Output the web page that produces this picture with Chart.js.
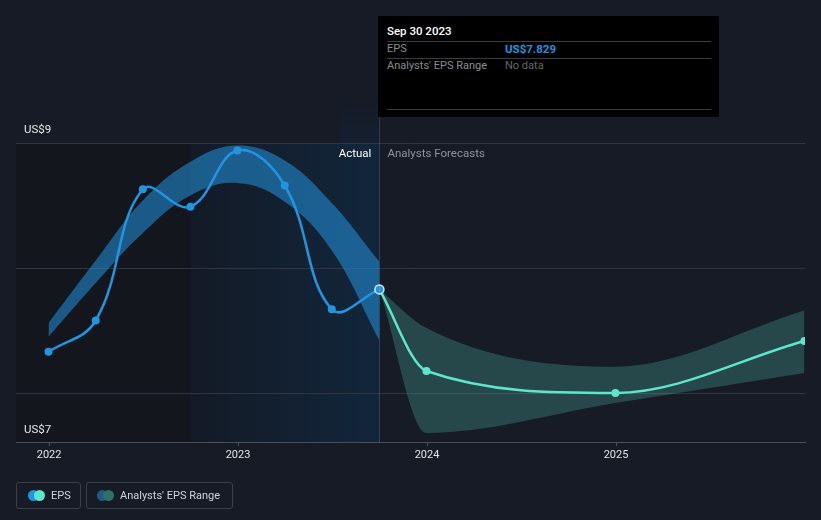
<!DOCTYPE html>
<html>
<head>
<meta charset="utf-8">
<script src="https://cdn.jsdelivr.net/npm/chart.js@4/dist/chart.umd.min.js"></script>
<style>
  html, body { margin:0; padding:0; background:#161b26; }
  body { width:821px; height:520px; overflow:hidden; position:relative; font-family:Roboto, "DejaVu Sans", sans-serif; }
  #c { position:absolute; left:0; top:0; }
  #tip { position:absolute; left:378px; top:16px; width:341px; height:101px; background:#000; }
  #tip .t { position:absolute; font-size:11px; line-height:14px; white-space:nowrap; }
  #tip .hr { position:absolute; left:9px; width:324px; height:1px; background:#3a3c40; }
  .lg { position:absolute; top:482px; height:25px; border:1px solid #3a3f4a; border-radius:3px; }
  .lg .dot { position:absolute; top:7px; width:11px; height:11px; border-radius:50%; }
  .lg .tx { position:absolute; top:0; line-height:25px; font-size:11px; color:#cfd3d9; white-space:nowrap; }
</style>
</head>
<body>
<canvas id="c" width="821" height="520" style="width:821px;height:520px"></canvas>

<div id="tip">
  <div class="t" style="left:9px;top:8px;color:#fff;font-weight:500;font-size:11.5px">Sep 30 2023</div>
  <div class="hr" style="top:25px"></div>
  <div class="t" style="left:9px;top:26px;color:#8b8e94">EPS</div>
  <div class="t" style="left:127px;top:26px;color:#2394df;font-weight:700;font-size:11.5px">US$7.829</div>
  <div class="hr" style="top:42px"></div>
  <div class="t" style="left:9px;top:43px;color:#8b8e94">Analysts' EPS Range</div>
  <div class="t" style="left:127px;top:43px;color:#65686e">No data</div>
  <div class="hr" style="top:93px"></div>
</div>

<div class="lg" style="left:16px;width:63px">
  <div class="dot" style="left:11px;background:#2394df"></div>
  <div class="dot" style="left:17px;background:#5ee6cb"></div>
  <div class="tx" style="left:34px">EPS</div>
</div>
<div class="lg" style="left:86px;width:145px">
  <div class="dot" style="left:10px;background:#1f5a88"></div>
  <div class="dot" style="left:16px;background:#2f706a"></div>
  <div class="tx" style="left:33px">Analysts' EPS Range</div>
</div>

<script>
// ---- data (x = fractional year) ----
const epsDates   = [2021.997, 2022.247, 2022.496, 2022.748, 2022.997, 2023.247, 2023.496, 2023.748];
const epsValues  = [7.33, 7.58, 8.63, 8.49, 8.94, 8.66, 7.67, 7.829];
const pastBandHigh = [7.56, 8.06, 8.54, 8.85, 8.98, 8.86, 8.52, 8.05];
const pastBandLow  = [7.45, 7.88, 8.28, 8.58, 8.68, 8.53, 8.14, 7.42];
const fcDates    = [2023.748, 2023.997, 2024.997, 2025.997];
const fcValues   = [7.829, 7.176, 7.0, 7.416];
const fcHigh     = [7.829, 7.52, 7.21, 7.66];
const fcLow      = [7.829, 6.68, 6.92, 7.16];
const yearTicks  = [2022, 2023, 2024, 2025];
const yGridTicks = [7, 8, 9];
const yLabels    = ["US$9", "US$7"];
const xMin = 2021.825, xMax = 2026.0;
const yMin = 6.608, yMax = 9;
const pastStart = 2022.748, actualEnd = 2023.748;

const pts = (xs, ys) => xs.map((x, i) => ({ x, y: ys[i] }));

const bgPlugin = {
  id: 'bg',
  beforeDraw(chart) {
    const { ctx, chartArea: a, scales: { x } } = chart;
    ctx.save();
    const x1 = x.getPixelForValue(pastStart), x2 = x.getPixelForValue(actualEnd);
    ctx.fillStyle = '#13161d';
    ctx.fillRect(a.left, a.top, x1 - a.left, a.bottom - a.top);
    const g = ctx.createLinearGradient(x1, 0, x2, 0);
    g.addColorStop(0, '#131a26');
    g.addColorStop(1, '#12263b');
    ctx.fillStyle = g;
    ctx.fillRect(x1, a.top, x2 - x1, a.bottom - a.top);
    const g2 = ctx.createLinearGradient(0, a.top - 45, 0, a.top);
    g2.addColorStop(0, 'rgba(20,36,54,0)');
    g2.addColorStop(1, 'rgba(20,36,54,0.6)');
    ctx.fillStyle = g2;
    ctx.fillRect(x2 - 40, a.top - 45, 40, 45);
    ctx.restore();
  },
  afterDraw(chart) {
    const { ctx, chartArea: a, scales: { x, y } } = chart;
    ctx.save();
    const x2 = x.getPixelForValue(actualEnd);
    ctx.strokeStyle = 'rgba(255,255,255,0.14)';
    ctx.lineWidth = 1;
    ctx.beginPath();
    ctx.moveTo(Math.round(x2) + 0.5, 117);
    ctx.lineTo(Math.round(x2) + 0.5, a.bottom);
    ctx.stroke();
    ctx.font = '11.5px Roboto';
    ctx.textBaseline = 'middle';
    ctx.textAlign = 'right';
    ctx.fillStyle = '#ffffff';
    ctx.fillText('Actual', x2 - 8, a.top + 11);
    ctx.textAlign = 'left';
    ctx.fillStyle = '#8e939b';
    ctx.fillText('Analysts Forecasts', x2 + 8, a.top + 11);
    ctx.font = '11.5px Roboto';
    ctx.fillStyle = '#e6e8eb';
    ctx.fillText(yLabels[0], a.left + 8, y.getPixelForValue(yMax) - 13);
    ctx.fillText(yLabels[1], a.left + 8, a.bottom - 12);
    ctx.restore();
  }
};

new Chart(document.getElementById('c'), {
  type: 'line',
  data: {
    datasets: [
      {
        label: 'EPS', data: pts(epsDates, epsValues), order: 0,
        borderColor: '#2394df', borderWidth: 2.5, tension: 0.4, fill: false,
        pointRadius: epsDates.map((d, i) => i === epsDates.length - 1 ? 4.5 : 4),
        pointBackgroundColor: '#2394df',
        pointBorderColor: epsDates.map((d, i) => i === epsDates.length - 1 ? '#dbeaf7' : '#2394df'),
        pointBorderWidth: epsDates.map((d, i) => i === epsDates.length - 1 ? 1.5 : 0)
      },
      {
        label: 'Forecast', data: pts(fcDates, fcValues), order: 1,
        borderColor: '#5ee6cb', borderWidth: 2.5, cubicInterpolationMode: 'monotone', fill: false,
        pointRadius: fcDates.map((d, i) => i === 0 ? 0 : 4),
        pointBackgroundColor: '#5ee6cb', pointBorderWidth: 0
      },
      {
        label: 'pastHigh', data: pts(epsDates, pastBandHigh), order: 2,
        borderWidth: 0, pointRadius: 0, tension: 0.4, fill: '+1',
        backgroundColor: 'rgba(35,148,223,0.55)'
      },
      {
        label: 'pastLow', data: pts(epsDates, pastBandLow), order: 3,
        borderWidth: 0, pointRadius: 0, tension: 0.4, fill: false
      },
      {
        label: 'fcHigh', data: pts(fcDates, fcHigh), order: 2,
        borderWidth: 0, pointRadius: 0, cubicInterpolationMode: 'monotone', fill: '+1',
        backgroundColor: 'rgba(94,230,203,0.22)'
      },
      {
        label: 'fcLow', data: pts(fcDates, fcLow), order: 3,
        borderWidth: 0, pointRadius: 0, cubicInterpolationMode: 'monotone', fill: false
      }
    ]
  },
  options: {
    responsive: false, animation: false,
    layout: { padding: { left: 16, right: 16, top: 143, bottom: 0 } },
    plugins: { legend: { display: false }, tooltip: { enabled: false } },
    scales: {
      x: {
        type: 'linear', min: xMin, max: xMax,
        afterBuildTicks: s => { s.ticks = yearTicks.map(v => ({ value: v })); },
        afterFit: s => { s.height = 78; },
        grid: { drawOnChartArea: false, drawTicks: true, tickLength: 4, color: '#4a4f58' },
        border: { display: true, color: '#4a4f58', width: 1 },
        ticks: { color: '#e3e5e8', font: { family: 'Roboto', size: 11 }, padding: 3, maxRotation: 0,
                 callback: v => String(v) }
      },
      y: {
        type: 'linear', min: yMin, max: yMax,
        afterBuildTicks: s => { s.ticks = yGridTicks.map(v => ({ value: v })); },
        afterFit: s => { s.width = 0; },
        grid: { color: '#30353f', drawTicks: false },
        border: { display: false },
        ticks: { display: false }
      }
    }
  },
  plugins: [bgPlugin]
});
</script>
</body>
</html>
